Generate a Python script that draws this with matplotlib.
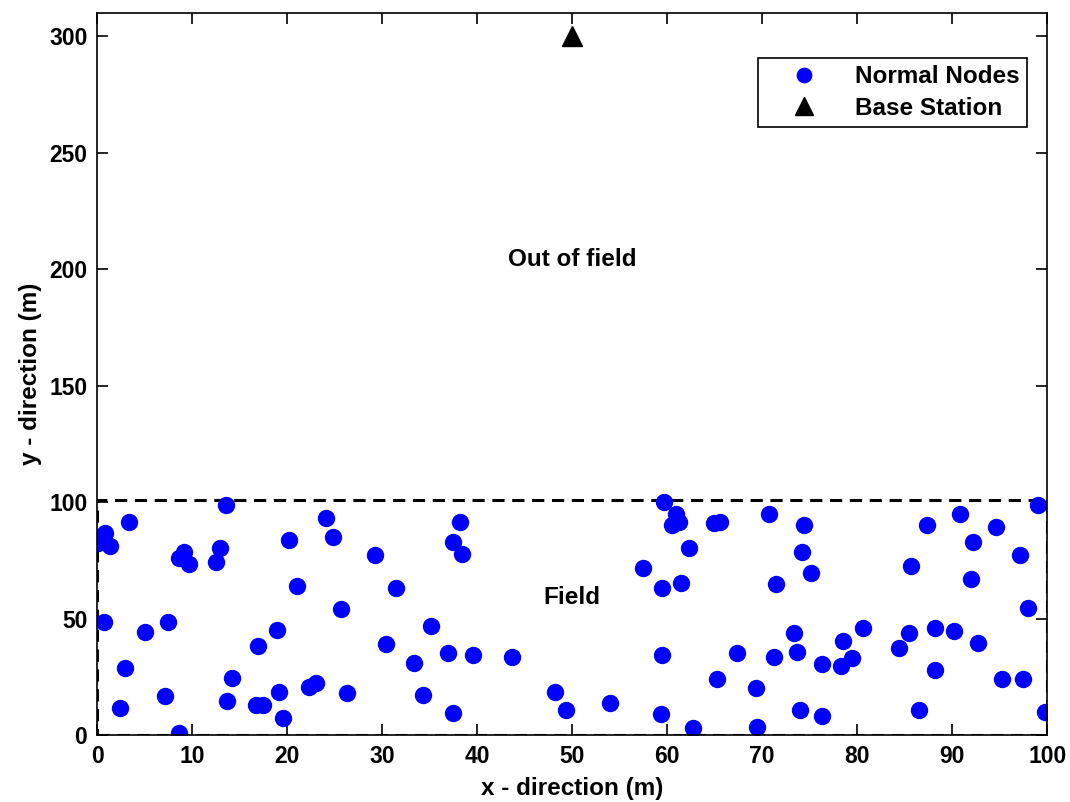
import matplotlib.pyplot as plt

plt.rcParams['font.family'] = ['Liberation Sans', 'DejaVu Sans']
plt.rcParams['font.weight'] = 'bold'

# node positions (m)
node_x = [13.6, 3.4, 0.8, 0.1, 1.4, 24.1, 24.8, 20.2, 12.9, 12.5,
          9.2, 8.6, 9.7, 29.3, 21.0, 31.5, 25.7, 0.7, 7.5, 5.0,
          18.9, 30.4, 16.9, 2.9, 14.2, 23.0, 22.3, 7.1, 19.1, 26.3,
          13.7, 16.7, 17.5, 2.4, 19.6, 8.6, 38.2, 37.5, 38.4, 35.1,
          33.4, 36.9, 39.6, 43.7, 34.3, 37.5, 48.2, 49.4, 54.0, 59.7,
          60.9, 60.5, 61.2, 64.9, 62.3, 57.5, 59.5, 61.5, 59.5, 65.2,
          59.4, 62.7, 65.6, 70.7, 74.4, 74.2, 75.1, 71.5, 67.3, 71.2,
          73.3, 73.7, 76.3, 69.3, 69.5, 74.0, 76.3, 78.5, 78.3, 79.5,
          80.6, 84.4, 85.5, 88.2, 90.2, 92.7, 88.2, 86.5, 95.2, 97.4,
          99.8, 85.7, 87.4, 90.8, 92.2, 92.0, 94.6, 97.1, 98.0, 99.0]
node_y = [98.7, 91.5, 86.7, 82.4, 81.0, 93.0, 85.1, 83.7, 80.5, 74.4,
          78.7, 75.8, 73.4, 77.5, 64.1, 63.2, 53.9, 48.4, 48.4, 44.3,
          45.2, 38.9, 38.2, 28.6, 24.7, 22.4, 20.7, 16.9, 18.6, 17.9,
          14.6, 12.9, 12.9, 11.4, 7.4, 0.7, 91.5, 83.0, 77.9, 46.8,
          31.0, 35.1, 34.3, 33.6, 17.2, 9.3, 18.6, 10.7, 13.9, 100.1,
          95.1, 90.3, 91.5, 91.1, 80.4, 71.9, 63.2, 65.4, 34.3, 23.9,
          9.0, 2.9, 91.5, 94.7, 90.1, 78.4, 69.7, 64.8, 35.1, 33.6,
          43.6, 35.8, 30.5, 20.0, 3.6, 10.7, 8.3, 40.5, 29.6, 33.2,
          46.1, 37.5, 43.6, 46.1, 44.6, 39.6, 27.9, 10.7, 23.9, 23.9,
          10.0, 72.5, 90.1, 94.7, 83.0, 67.1, 89.3, 77.5, 54.7, 98.7]

base_x = [50]
base_y = [300]

field_x = [0, 100, 100, 0, 0]
field_y = [0, 0, 101, 101, 0]

fig = plt.figure(figsize=(10.7, 8.02), dpi=100)
ax = fig.add_axes([0.0907, 0.0835, 0.888, 0.9003])

# field border
ax.plot(field_x, field_y, color='k', linestyle='--', linewidth=2.2, dashes=(4, 2.5))

ax.plot(node_x, node_y, 'o', color='#0000ff', markersize=11.5, label='Normal Nodes')
ax.plot(base_x, base_y, '^', color='k', markersize=15, label='Base Station', clip_on=False)

ax.text(50, 204, 'Out of field', ha='center', va='center', fontsize=17.5, fontweight='bold')
ax.text(50, 59, 'Field', ha='center', va='center', fontsize=17.5, fontweight='bold')

ax.set_xlim(0, 100)
ax.set_ylim(0, 310)
ax.set_xticks(range(0, 101, 10))
ax.set_yticks(range(0, 301, 50))

ax.set_xlabel('x - direction (m)', fontsize=17.5, fontweight='bold', labelpad=7)
ax.set_ylabel('y - direction (m)', fontsize=17.5, fontweight='bold', labelpad=5)

ax.tick_params(direction='in', length=8, width=1.2, labelsize=16.5,
               top=True, right=True, pad=7)
for s in ax.spines.values():
    s.set_linewidth(1.2)

leg = ax.legend(loc='upper right', bbox_to_anchor=(0.979, 0.938), fontsize=17.5,
                fancybox=False, edgecolor='k', framealpha=1, borderpad=0.3,
                labelspacing=0.35, handlelength=3.2, handletextpad=0.5,
                borderaxespad=0, markerscale=0.9)
leg.get_frame().set_linewidth(1.2)

plt.savefig('out.png', dpi=100)
